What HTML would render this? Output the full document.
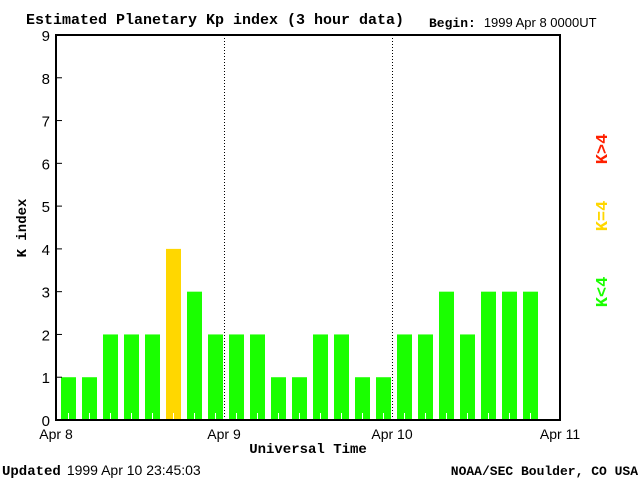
<!DOCTYPE html>
<html><head><meta charset="utf-8"><style>
body{margin:0;background:#fff;}
svg{display:block;}
.t{font-family:"Liberation Mono",monospace;font-weight:bold;}
.s{font-family:"Liberation Sans",sans-serif;}
</style></head><body>
<svg id="chart" width="640" height="480" xmlns="http://www.w3.org/2000/svg">
<text class="t" x="26" y="24" font-size="15">Estimated Planetary Kp index (3 hour data)</text>
<text x="429" y="27" font-size="13"><tspan class="t">Begin:</tspan><tspan class="s" dx="8">1999 Apr 8 0000UT</tspan></text>
<g id="plot"></g>
<text class="t" transform="translate(26,228) rotate(-90)" text-anchor="middle" font-size="14">K index</text>
<text class="t" x="308" y="453" text-anchor="middle" font-size="14">Universal Time</text>
<text x="2" y="475" font-size="14"><tspan class="t">Updated</tspan><tspan class="s" dx="6">1999 Apr 10 23:45:03</tspan></text>
<text class="t" x="638" y="475" text-anchor="end" font-size="13">NOAA/SEC Boulder, CO USA</text>
<text class="t" transform="translate(607,149) rotate(-90)" text-anchor="middle" font-size="17" fill="#ff2000">K&gt;4</text>
<text class="t" transform="translate(607,216) rotate(-90)" text-anchor="middle" font-size="17" fill="#ffd700">K=4</text>
<text class="t" transform="translate(607,292) rotate(-90)" text-anchor="middle" font-size="17" fill="#1aff00">K&lt;4</text>
</svg>
<script>
const kpValues = [1,1,2,2,2,4,3,2, 2,2,1,1,2,2,1,1, 2,2,3,2,3,3,3];
const dayLabels = ["Apr 8","Apr 9","Apr 10","Apr 11"];
const yTicks = [0,1,2,3,4,5,6,7,8,9];
const NS="http://www.w3.org/2000/svg";
const L=56,R=560,T=35,B=420;
const x=i=>L+(R-L)*i/24;
const y=v=>B-(B-T)*v/9;
const g=document.getElementById('plot');
function mk(t,a){const e=document.createElementNS(NS,t);for(const k in a)e.setAttribute(k,a[k]);g.appendChild(e);return e;}
kpValues.forEach((v,i)=>{
  const c=v<4?'#1aff00':(v===4?'#ffd700':'#ff2000');
  const r=mk('rect',{x:x(i)+5,y:y(v),width:15,height:B-y(v),fill:c});
  
  
  mk('line',{x1:x(i)+12.5,x2:x(i)+12.5,y1:B-7,y2:B,stroke:'#fff','stroke-width':1});
});
[1,2].forEach(d=>{mk('line',{x1:x(d*8)+0.5,x2:x(d*8)+0.5,y1:T,y2:B,stroke:'#000','stroke-dasharray':'1,2'});});
const f=mk('rect',{x:L,y:T,width:R-L,height:B-T,fill:'none',stroke:'#000','stroke-width':2});


yTicks.forEach(v=>{
  mk('line',{x1:L,x2:L+6,y1:y(v),y2:y(v),stroke:'#000'});
  const t=mk('text',{x:L-6,y:y(v)+6,'text-anchor':'end','font-size':15,'font-family':'Liberation Sans,sans-serif'});
  t.textContent=v;
  
  
});
dayLabels.forEach((d,i)=>{
  const t=mk('text',{x:x(i*8),y:439,'text-anchor':'middle','font-size':14,'font-family':'Liberation Sans,sans-serif'});
  t.textContent=d;
  
  
});
</script>
</body></html>
